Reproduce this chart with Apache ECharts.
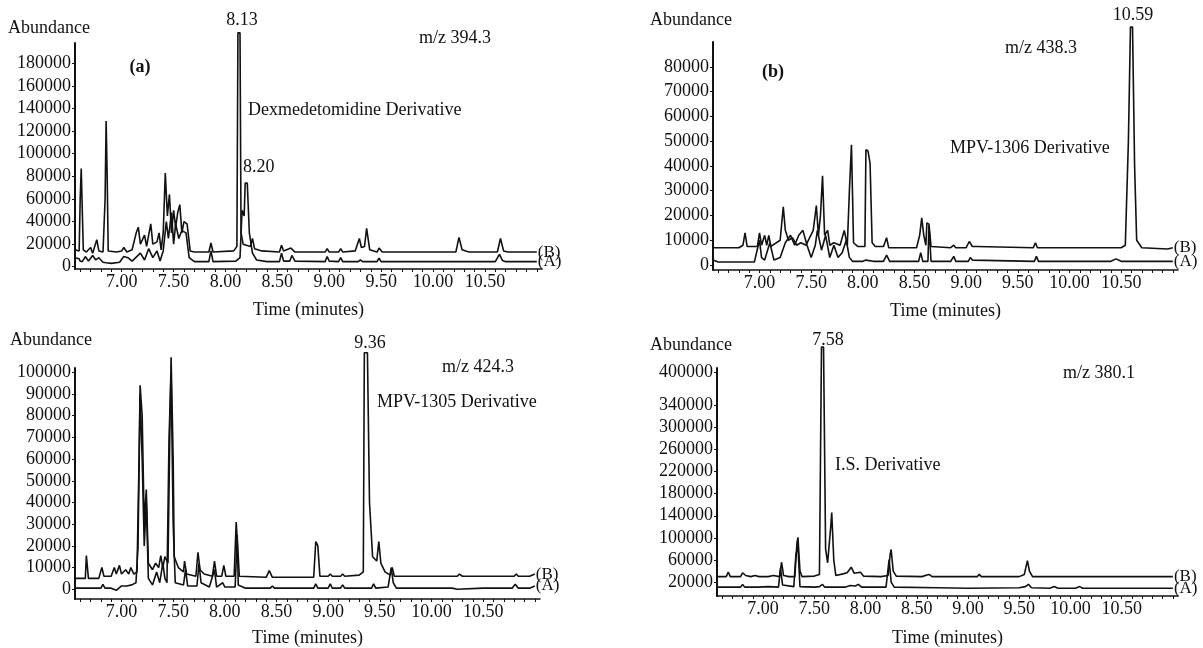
<!DOCTYPE html>
<html>
<head>
<meta charset="utf-8">
<title>GC-MS chromatograms</title>
<script src="https://cdn.jsdelivr.net/npm/echarts@6/dist/echarts.min.js"></script>
<style>
  html, body { margin: 0; padding: 0; background: #fff; }
  #chart { width: 1203px; height: 648px; }
</style>
</head>
<body>
<div id="chart"></div>
<script>
// --- data: [time (min), abundance] ---

// panel (a) m/z 394.3
const aTraceB = [[6.55,15000],[6.59,14000],[6.60,60000],[6.61,87000],[6.62,87000],[6.63,15000],[6.66,13000],[6.70,17000],[6.72,12000],[6.76,24000],[6.78,14000],[6.82,13000],[6.84,60000],[6.85,129000],[6.86,80000],[6.87,14000],[6.95,13000],[7.00,14000],[7.02,17000],[7.05,13000],[7.10,15000],[7.14,30000],[7.16,35000],[7.18,20000],[7.22,28000],[7.24,18000],[7.28,38000],[7.30,20000],[7.34,22000],[7.36,30000],[7.38,15000],[7.40,30000],[7.42,83000],[7.44,45000],[7.46,64000],[7.48,30000],[7.50,50000],[7.52,35000],[7.54,48000],[7.56,55000],[7.58,30000],[7.60,40000],[7.63,38000],[7.66,14000],[7.70,13000],[7.84,13000],[7.86,21000],[7.88,13000],[8.08,14000],[8.11,18000],[8.12,207000],[8.14,207000],[8.15,30000],[8.17,20000],[8.24,18000],[8.26,25000],[8.28,16000],[8.35,14000],[8.52,13000],[8.54,19000],[8.56,14000],[8.63,16500],[8.67,13000],[8.96,13000],[8.98,16000],[9.00,13000],[9.09,13000],[9.11,16000],[9.13,13000],[9.25,14000],[9.29,25000],[9.31,17000],[9.34,18000],[9.36,34000],[9.39,15000],[9.46,13000],[9.48,16500],[9.51,13000],[10.22,13000],[10.25,26000],[10.28,15000],[10.33,13500],[10.35,13000],[10.62,13000],[10.65,25000],[10.68,14000],[10.72,13000],[11.00,13000]];
const aTraceA = [[6.55,8000],[6.59,7000],[6.60,5000],[6.62,4500],[6.65,9000],[6.68,5000],[6.72,10000],[6.75,6000],[6.78,8000],[6.82,4000],[6.85,3500],[6.90,3000],[6.98,4000],[7.02,9000],[7.06,8000],[7.10,5000],[7.18,12000],[7.22,6000],[7.26,16000],[7.30,8000],[7.34,14000],[7.37,5000],[7.40,14000],[7.43,40000],[7.45,25000],[7.48,48000],[7.50,20000],[7.52,38000],[7.55,25000],[7.58,32000],[7.62,30000],[7.65,8000],[7.70,4500],[7.84,4500],[7.86,14000],[7.88,4500],[8.10,5000],[8.14,8000],[8.16,50000],[8.18,45000],[8.19,74000],[8.21,74000],[8.23,30000],[8.26,12000],[8.30,6000],[8.40,4500],[8.52,4500],[8.54,12000],[8.56,5000],[8.62,5000],[8.64,10000],[8.67,5000],[8.96,4500],[8.98,9000],[9.00,5000],[9.09,4500],[9.11,8000],[9.13,4500],[9.28,4500],[9.30,6000],[9.32,4500],[9.46,4500],[9.48,7500],[9.50,4500],[10.60,4500],[10.64,11000],[10.67,5500],[10.70,4500],[11.00,4500]];

// panel (b) m/z 438.3
const bTraceB = [[6.55,7000],[6.80,7000],[6.84,8000],[6.86,13000],[6.88,7500],[6.98,7500],[7.00,13000],[7.02,8000],[7.05,12000],[7.07,8000],[7.09,12000],[7.11,7500],[7.20,10000],[7.23,23500],[7.25,14000],[7.28,10000],[7.32,11000],[7.36,8000],[7.40,9000],[7.45,8000],[7.52,14000],[7.55,24000],[7.57,12000],[7.59,20000],[7.61,36000],[7.63,12000],[7.66,14000],[7.68,8000],[7.72,9000],[7.78,8000],[7.82,14000],[7.85,8000],[7.87,30000],[7.89,48500],[7.91,9000],[7.95,7500],[8.02,7500],[8.03,46500],[8.05,46000],[8.07,41000],[8.09,9000],[8.12,7500],[8.20,7500],[8.23,11000],[8.25,7000],[8.52,7000],[8.55,12000],[8.57,19000],[8.59,12000],[8.61,8000],[8.62,17000],[8.64,16500],[8.66,7500],[8.85,7000],[8.88,8000],[8.90,7000],[9.00,7000],[9.03,9500],[9.06,7500],[9.10,7500],[9.65,7000],[9.67,9000],[9.69,7000],[10.50,7000],[10.54,8000],[10.57,50000],[10.59,96000],[10.61,96000],[10.63,40000],[10.65,10000],[10.70,7000],[10.95,6500],[11.00,7000]];
const bTraceA = [[6.55,2000],[6.60,1200],[6.95,1200],[7.00,10000],[7.02,3000],[7.05,2000],[7.10,9000],[7.14,2000],[7.20,3000],[7.25,9000],[7.30,12000],[7.34,8000],[7.38,12000],[7.42,14000],[7.46,8000],[7.50,3000],[7.54,8000],[7.56,14000],[7.60,6000],[7.64,12000],[7.68,3000],[7.72,8000],[7.76,3000],[7.80,5000],[7.84,10000],[7.87,3000],[7.90,1500],[8.00,1500],[8.03,2000],[8.10,1500],[8.20,1500],[8.23,4000],[8.26,1500],[8.54,1500],[8.56,5000],[8.58,1500],[8.63,1500],[8.64,16000],[8.65,16000],[8.66,1500],[8.85,1500],[8.88,3500],[8.90,1500],[9.02,1500],[9.04,3000],[9.06,2000],[9.66,1500],[9.68,3500],[9.70,1500],[10.40,1500],[10.45,2500],[10.50,1500],[11.00,1500]];

// panel (c) m/z 424.3
const cTraceB = [[6.55,5000],[6.65,5000],[6.66,15500],[6.68,5000],[6.78,5000],[6.81,10000],[6.83,6000],[6.90,6000],[6.93,10000],[6.95,7000],[6.98,11000],[7.00,7000],[7.04,9000],[7.07,7000],[7.09,10000],[7.12,7000],[7.15,8000],[7.17,60000],[7.18,94000],[7.20,80000],[7.22,30000],[7.24,46000],[7.26,12000],[7.30,9000],[7.33,12000],[7.36,10000],[7.38,15500],[7.40,10000],[7.42,15000],[7.45,12000],[7.47,80000],[7.48,107000],[7.50,60000],[7.51,15000],[7.55,10000],[7.60,8000],[7.61,13000],[7.63,7000],[7.72,6000],[7.74,17000],[7.76,9000],[7.80,7000],[7.88,6000],[7.90,13000],[7.92,6000],[7.97,6000],[7.99,11000],[8.01,6000],[8.09,6000],[8.11,31000],[8.13,15000],[8.14,6000],[8.40,5500],[8.43,8600],[8.46,5500],[8.86,5500],[8.88,22000],[8.90,20000],[8.92,6000],[9.00,6000],[9.02,7000],[9.04,6000],[9.12,6000],[9.14,7000],[9.16,6000],[9.30,6500],[9.34,8000],[9.35,109000],[9.38,109000],[9.40,40000],[9.43,15000],[9.47,13000],[9.49,22000],[9.51,12000],[9.55,8000],[9.60,6500],[9.62,10000],[9.64,6000],[10.25,6000],[10.27,7000],[10.30,6000],[10.80,6000],[10.82,7000],[10.84,6000],[10.95,6000],[11.00,7000]];
const cTraceA = [[6.55,500],[6.80,500],[6.82,2300],[6.84,500],[6.90,500],[6.95,-500],[7.00,1500],[7.05,1500],[7.10,2000],[7.14,3000],[7.16,20000],[7.18,90000],[7.20,60000],[7.22,20000],[7.24,40000],[7.26,5000],[7.30,2000],[7.34,8000],[7.37,3000],[7.40,12000],[7.42,5000],[7.44,3000],[7.46,70000],[7.48,100000],[7.50,30000],[7.52,3000],[7.60,2000],[7.62,9000],[7.64,1500],[7.73,1500],[7.75,12000],[7.77,3000],[7.85,1000],[7.90,9000],[7.92,1000],[7.98,3000],[8.00,1000],[8.10,1000],[8.12,25000],[8.13,2000],[8.20,500],[8.44,500],[8.46,1500],[8.48,500],[8.86,500],[8.88,2500],[8.90,500],[9.00,500],[9.02,2500],[9.04,500],[9.12,500],[9.14,2000],[9.16,500],[9.42,500],[9.44,2500],[9.46,500],[9.58,1000],[9.61,10000],[9.63,3000],[9.66,500],[10.20,500],[10.25,0],[10.50,500],[10.78,500],[10.81,2300],[10.84,500],[10.95,500],[11.00,1500]];

// panel (d) m/z 380.1
const dTraceB = [[6.55,30000],[6.64,30000],[6.66,38000],[6.68,30000],[6.78,30000],[6.80,37000],[6.83,32000],[6.88,30000],[6.92,32000],[6.96,30000],[7.05,30000],[7.10,32000],[7.16,30000],[7.18,56000],[7.20,32000],[7.25,30000],[7.31,30000],[7.33,90000],[7.34,101000],[7.36,40000],[7.38,30000],[7.50,31000],[7.55,34000],[7.57,445000],[7.59,445000],[7.61,80000],[7.63,55000],[7.66,120000],[7.67,146000],[7.69,60000],[7.71,32000],[7.78,35000],[7.82,37000],[7.86,47000],[7.89,36000],[7.95,38000],[7.98,31000],[8.15,30000],[8.22,32000],[8.24,70000],[8.25,79000],[8.27,40000],[8.30,31000],[8.55,30000],[8.60,33000],[8.62,34000],[8.65,30000],[9.09,30000],[9.11,34000],[9.13,30000],[9.50,30000],[9.55,34000],[9.58,59000],[9.60,40000],[9.63,30000],[11.00,30000]];
const dTraceA = [[6.55,11000],[6.78,11000],[6.80,16000],[6.82,11000],[6.95,11000],[7.05,12000],[7.15,11000],[7.17,45000],[7.19,15000],[7.30,12000],[7.32,70000],[7.34,85000],[7.36,12000],[7.50,11000],[7.55,12000],[7.58,16000],[7.60,11000],[7.80,11000],[7.85,14000],[7.90,13000],[7.93,16000],[7.96,11000],[8.20,11000],[8.23,61000],[8.25,20000],[8.28,11000],[8.70,10000],[9.00,9000],[9.50,10000],[9.56,12000],[9.59,16000],[9.62,10000],[9.80,9000],[9.84,12000],[9.88,9000],[10.05,9000],[10.09,12000],[10.12,9000],[11.00,9000]];

// tick labels
const timeLabels = [7.0, 7.5, 8.0, 8.5, 9.0, 9.5, 10.0, 10.5];
const aYLabels = [0, 20000, 40000, 60000, 80000, 100000, 120000, 140000, 160000, 180000];
const bYLabels = [0, 10000, 20000, 30000, 40000, 50000, 60000, 70000, 80000];
const cYLabels = [0, 10000, 20000, 30000, 40000, 50000, 60000, 70000, 80000, 90000, 100000];
const dYLabels = [20000, 60000, 100000, 140000, 180000, 220000, 260000, 300000, 340000, 400000];

// small ticks along the time axis, every 0.1 min
const timeTicks = [];
for (let i = 66; i <= 110; i++) timeTicks.push(i / 10);

const FONT = 'Liberation Serif';
const INK = '#111';

const panels = [
  { grid: { left: 75, top: 43, width: 467, height: 226 }, yMin: -2000, yMax: 198000, yLabels: aYLabels, traces: [aTraceB, aTraceA], nameGap: 32 },
  { grid: { left: 713, top: 42, width: 465, height: 228 }, yMin: -2000, yMax: 90000, yLabels: bYLabels, traces: [bTraceB, bTraceA], nameGap: 32 },
  { grid: { left: 75, top: 368, width: 465, height: 234 }, yMin: -4500, yMax: 102000, yLabels: cYLabels, traces: [cTraceB, cTraceA], nameGap: 30 },
  { grid: { left: 717, top: 368, width: 461, height: 229 }, yMin: -5000, yMax: 407000, yLabels: dYLabels, traces: [dTraceB, dTraceA], nameGap: 33 }
];

const grids = [], xAxes = [], yAxes = [], series = [];

panels.forEach((p, i) => {
  grids.push(p.grid);
  xAxes.push({
    type: 'value', gridIndex: i, min: 6.55, max: 11.05,
    name: 'Time (minutes)', nameLocation: 'middle', nameGap: p.nameGap,
    nameTextStyle: { fontFamily: FONT, fontSize: 18, color: INK },
    axisLine: { onZero: false, lineStyle: { color: INK, width: 1.5 } },
    axisTick: { customValues: timeTicks, length: 3, lineStyle: { color: INK } },
    axisLabel: {
      customValues: timeLabels, margin: 4,
      fontFamily: FONT, fontSize: 18, color: INK,
      formatter: v => v.toFixed(2)
    },
    splitLine: { show: false }
  });
  yAxes.push({
    type: 'value', gridIndex: i, min: p.yMin, max: p.yMax,
    axisLine: { show: true, onZero: false, lineStyle: { color: INK, width: 2 } },
    axisTick: { show: true, customValues: p.yLabels, length: 3, lineStyle: { color: INK } },
    axisLabel: {
      customValues: p.yLabels, margin: 4,
      fontFamily: FONT, fontSize: 18, color: INK,
      formatter: v => String(v)
    },
    splitLine: { show: false }
  });
  ['(B)', '(A)'].forEach((tag, k) => {
    series.push({
      type: 'line', xAxisIndex: i, yAxisIndex: i,
      data: p.traces[k], symbol: 'none', clip: false,
      lineStyle: { color: INK, width: 1.6 },
      endLabel: { show: true, formatter: tag, distance: 1, fontFamily: FONT, fontSize: 17, color: INK }
    });
  });
});

function label(text, x, y, opts = {}) {
  return {
    type: 'text', x: x, y: y, z: 10,
    style: {
      text: text, fill: INK,
      font: (opts.bold ? 'bold ' : '') + '18px "' + FONT + '"',
      align: opts.align || 'center', verticalAlign: 'middle'
    }
  };
}

const texts = [
  // (a)
  label('Abundance', 8, 28, { align: 'left' }),
  label('(a)', 140, 67, { bold: true }),
  label('8.13', 242, 20),
  label('8.20', 243, 167, { align: 'left' }),
  label('m/z 394.3', 455, 38),
  label('Dexmedetomidine Derivative', 248, 110, { align: 'left' }),
  // (b)
  label('Abundance', 650, 20, { align: 'left' }),
  label('(b)', 773, 72, { bold: true }),
  label('10.59', 1133, 15),
  label('m/z 438.3', 1041, 48),
  label('MPV-1306 Derivative', 950, 148, { align: 'left' }),
  // (c)
  label('Abundance', 10, 340, { align: 'left' }),
  label('9.36', 370, 343),
  label('m/z 424.3', 478, 367),
  label('MPV-1305 Derivative', 377, 402, { align: 'left' }),
  // (d)
  label('Abundance', 650, 345, { align: 'left' }),
  label('7.58', 828, 340),
  label('I.S. Derivative', 835, 465, { align: 'left' }),
  label('m/z 380.1', 1099, 373)
];

const chart = echarts.init(document.getElementById('chart'), null, { renderer: 'canvas' });
chart.setOption({
  backgroundColor: '#fff',
  animation: false,
  grid: grids,
  xAxis: xAxes,
  yAxis: yAxes,
  series: series,
  graphic: texts
});
</script>
</body>
</html>
